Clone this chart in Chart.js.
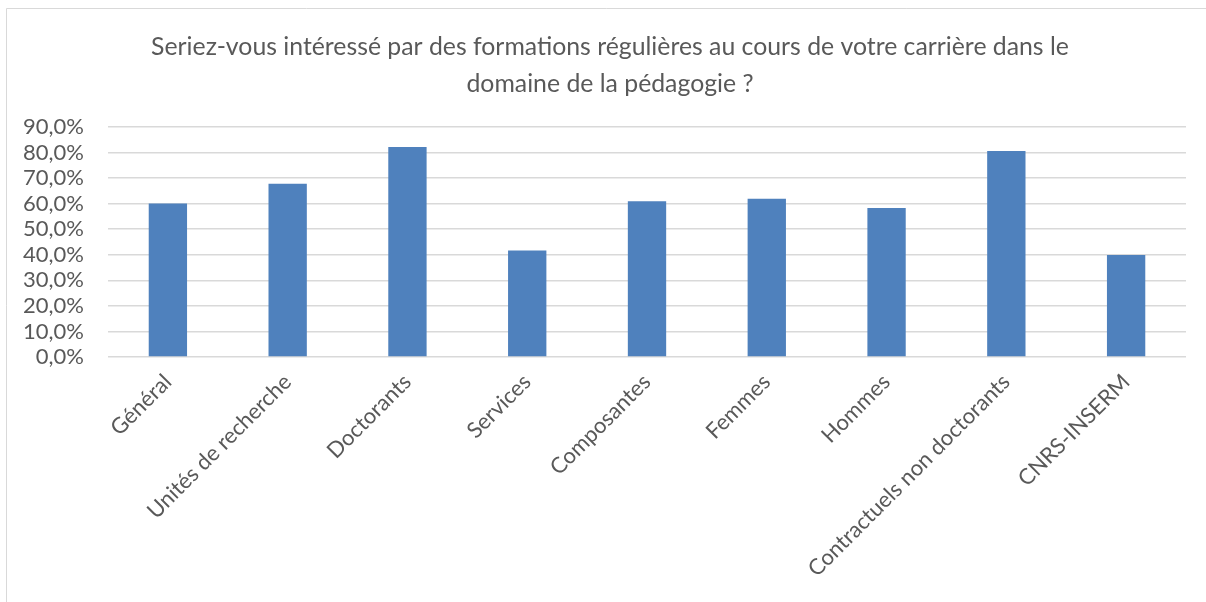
<!DOCTYPE html>
<html>
<head>
<meta charset="utf-8">
<script src="https://cdn.jsdelivr.net/npm/chart.js@4/dist/chart.umd.min.js"></script>
<style>
  html, body { margin: 0; padding: 0; background: #fff; }
  #wrap { position: relative; width: 1206px; height: 602px; }
</style>
</head>
<body>
<div id="wrap"><canvas id="myChart" width="1206" height="602"></canvas></div>
<script>
var categories = ["Général", "Unités de recherche", "Doctorants", "Services", "Composantes",
  "Femmes", "Hommes", "Contractuels non doctorants", "CNRS-INSERM"];
var values = [60.1, 67.8, 82.2, 41.7, 60.9, 61.9, 58.3, 80.6, 39.9];
var yTicks = [0, 10, 20, 30, 40, 50, 60, 70, 80, 90];
var titleLines = ["Seriez-vous intéressé par des formations régulières au cours de votre carrière dans le",
  "domaine de la pédagogie ?"];

var textColor = '#595959';
var fontFamily = 'Lato, "Open Sans", sans-serif';

// light frame like the Excel chart area
var framePlugin = {
  id: 'frame',
  beforeDraw: function (chart) {
    var c = chart.ctx;
    c.save();
    c.fillStyle = '#fff';
    c.fillRect(0, 0, chart.width, chart.height);
    c.strokeStyle = '#d9d9d9';
    c.lineWidth = 1;
    c.beginPath();
    c.moveTo(6.5, chart.height);
    c.lineTo(6.5, 8.5);
    c.lineTo(chart.width, 8.5);
    c.stroke();
    c.restore();
  }
};

// title drawn centred on the chart frame rather than the canvas
var titlePlugin = {
  id: 'frameTitle',
  afterDraw: function (chart) {
    var c = chart.ctx;
    c.save();
    c.fillStyle = textColor;
    c.font = '24.8px ' + fontFamily;
    c.textAlign = 'center';
    c.textBaseline = 'middle';
    titleLines.forEach(function (line, i) {
      c.fillText(line, 610, 47 + i * 37);
    });
    c.restore();
  }
};

var ctx = document.getElementById('myChart').getContext('2d');
var chart = new Chart(ctx, {
  type: 'bar',
  data: {
    labels: categories,
    datasets: [{
      data: values,
      backgroundColor: '#4f81bd',
      categoryPercentage: 1,
      barPercentage: 0.32
    }]
  },
  options: {
    responsive: false,
    animation: false,
    layout: { padding: { left: 0, right: 20, top: 127, bottom: 0 } },
    plugins: {
      legend: { display: false },
      tooltip: { enabled: false },
      title: { display: false }
    },
    scales: {
      x: {
        grid: { display: false },
        border: { display: false },
        ticks: {
          color: textColor,
          font: { family: fontFamily, size: 22 },
          minRotation: 45,
          maxRotation: 45,
          autoSkip: false,
          padding: 4
        },
        afterFit: function (scale) { scale.height = 245; }
      },
      y: {
        min: 0,
        max: 90,
        afterBuildTicks: function (scale) {
          scale.ticks = yTicks.map(function (v) { return { value: v }; });
        },
        grid: { color: '#d9d9d9', lineWidth: 1.5, drawTicks: false },
        border: { display: false },
        ticks: {
          color: textColor,
          font: { family: fontFamily, size: 22, lineHeight: 1 },
          autoSkip: false,
          padding: 24,
          callback: function (v) { return v.toFixed(1).replace('.', ',') + '%'; }
        },
        afterFit: function (scale) { scale.width = 108; }
      }
    }
  },
  plugins: [framePlugin, titlePlugin]
});
</script>
</body>
</html>
